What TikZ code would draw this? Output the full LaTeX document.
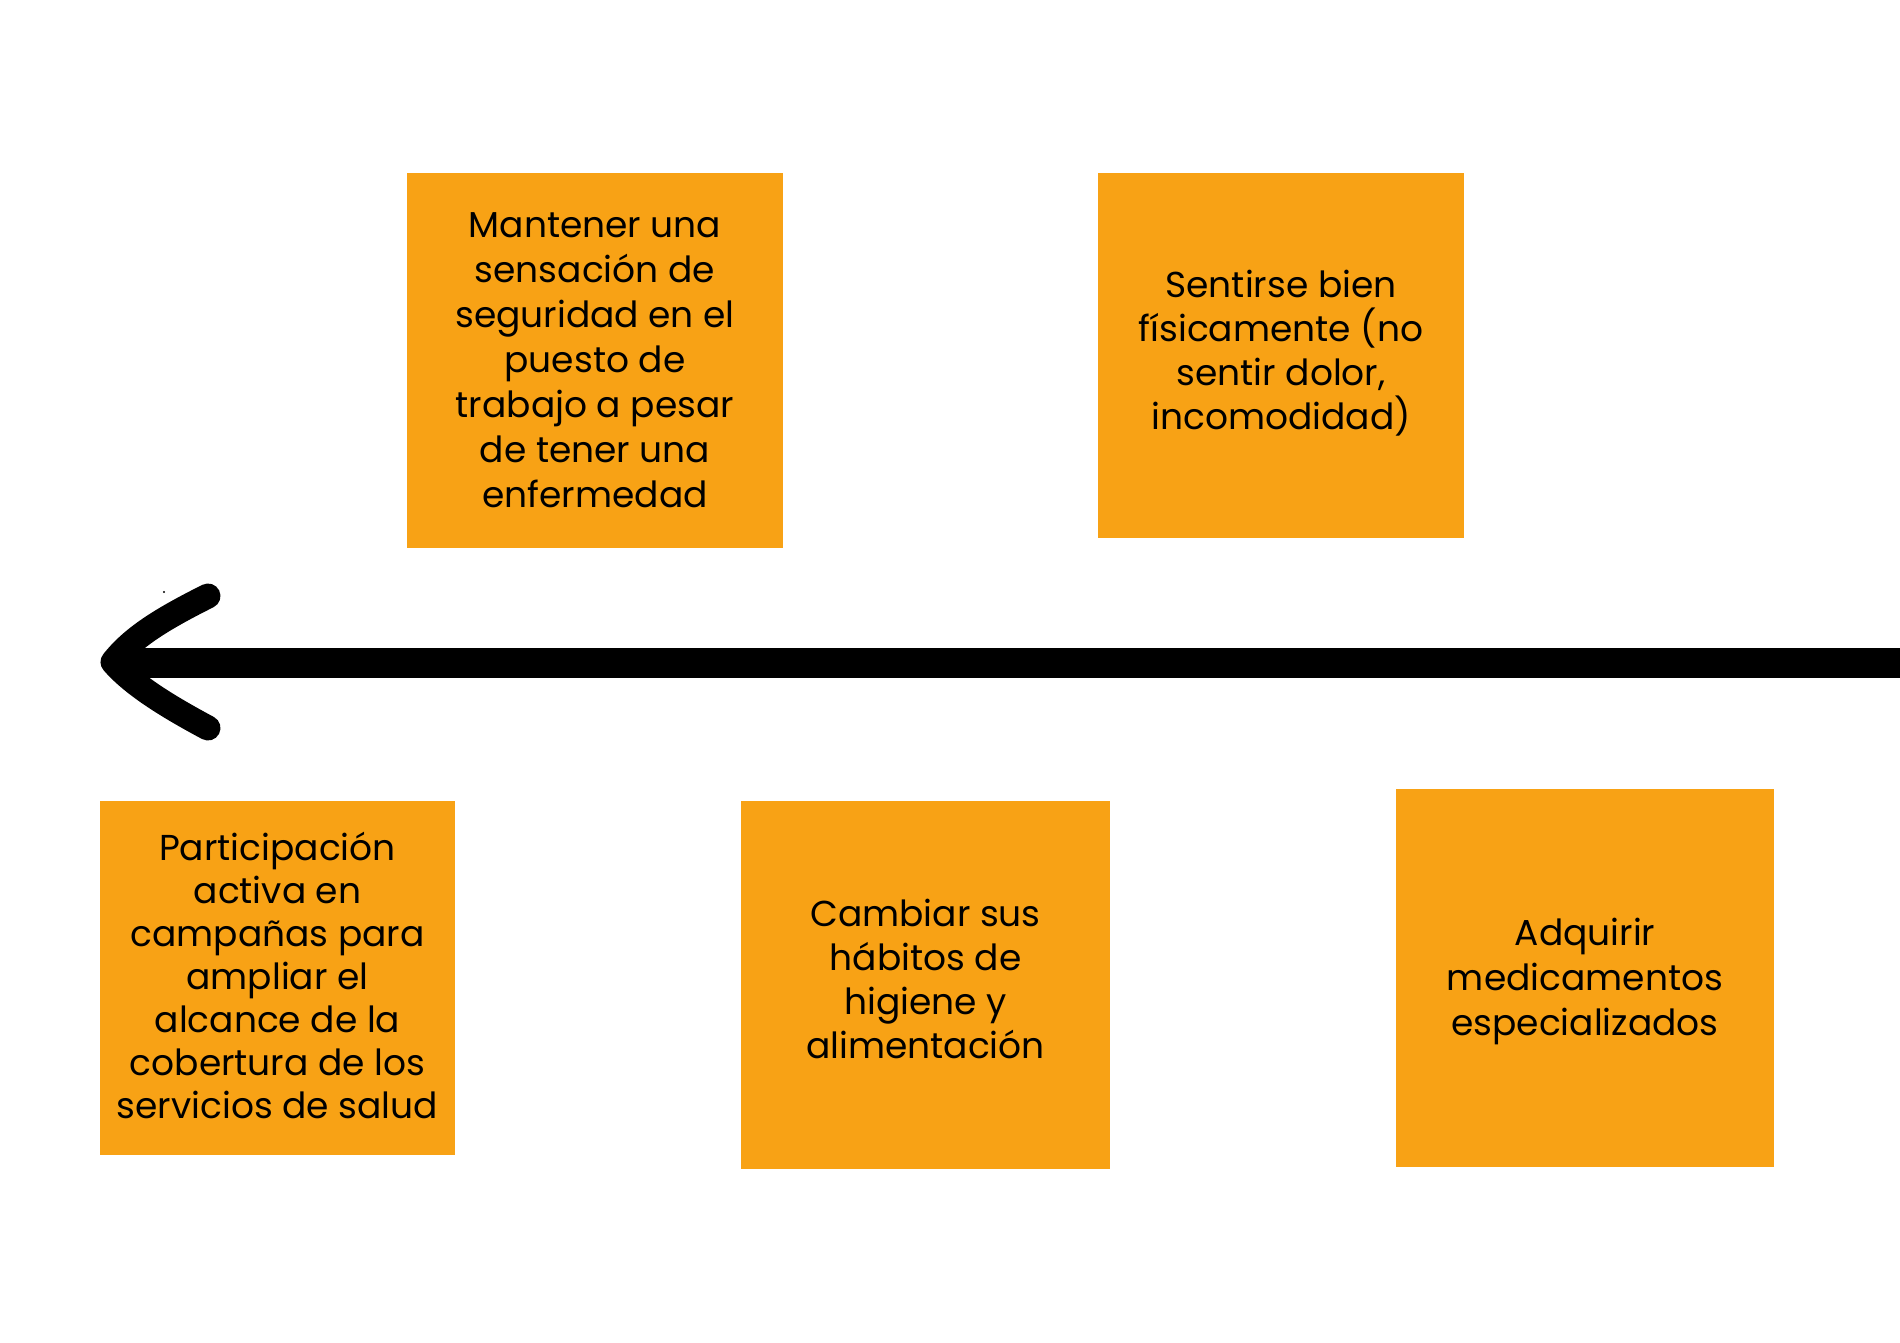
\documentclass[tikz,border=0pt]{standalone}
\usepackage{fontspec}
\setmainfont{Poppins}
\definecolor{boxorange}{HTML}{F8A215}
\begin{document}
\begin{tikzpicture}[x=1pt,y=-1pt,
  card/.style={fill=boxorange, draw=none, inner sep=0pt, align=center,
    font=\fontsize{36}{45}\selectfont, text=black},
  tight/.style={font=\fontsize{36}{43}\selectfont},
  mid/.style={font=\fontsize{36}{44}\selectfont},
  arm/.style={line width=25pt, line cap=round, line join=round, black}]
\useasboundingbox (0,0) rectangle (1900,1343);
\fill[white] (0,0) rectangle (1900,1343);
% boxes
\node[card, minimum width=376pt, minimum height=375pt] (b1) at (595,360.5)
  {Mantener una\\sensación de\\seguridad en el\\puesto de\\trabajo a pesar\\de tener una\\enfermedad};
\node[card, mid, minimum width=366pt, minimum height=365pt] (b2) at (1281,355.5)
  {}; 
\node[mid, align=center, inner sep=0pt] (t2) at (1281,353) {Sentirse bien\\físicamente (no\\sentir dolor,\\incomodidad)};
\node[card, minimum width=355pt, minimum height=354pt] (b3) at (277.5,978) {};
\node[tight, align=center, inner sep=0pt] (t3) at (277.5,975)
  {Participación\\activa en\\campañas para\\ampliar el\\alcance de la\\cobertura de los\\servicios de salud};
\node[card, minimum width=369pt, minimum height=368pt] (b4) at (925.5,985) {};
\node[mid, align=center, inner sep=0pt] (t4) at (925.5,979)
  {Cambiar sus\\hábitos de\\higiene y\\alimentación};
\node[card, minimum width=378pt, minimum height=378pt] (b5) at (1585,978) {};
\node[mid, align=center, inner sep=0pt, font=\fontsize{36}{45}\selectfont] (t5) at (1585,981)
  {Adquirir\\medicamentos\\especializados};
% arrow
\coordinate (tail) at (1900,663);
\coordinate (tip) at (113,662);
\coordinate (armtop) at (208,596);
\coordinate (armbot) at (208,728);
\draw[line width=30pt, black] (tail) -- (125,663);
\draw[arm] (armtop) .. controls (160,620) and (132,638) .. (tip)
  .. controls (132,684) and (165,705) .. (armbot);
\fill[black] (164,592) circle (1.2pt);
\end{tikzpicture}
\end{document}
